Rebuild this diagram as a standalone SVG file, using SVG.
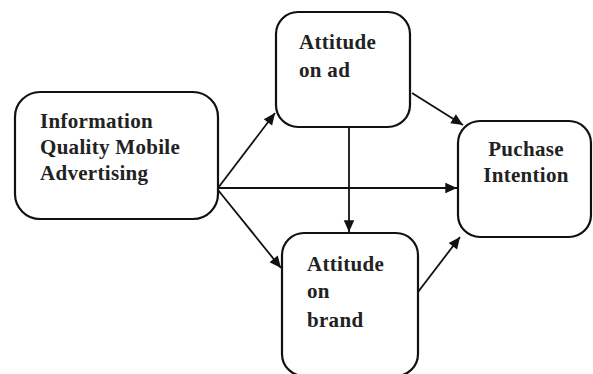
<svg xmlns="http://www.w3.org/2000/svg" width="593" height="374" viewBox="0 0 593 374">
<defs>
<style>
.box{fill:#fff;stroke:#111;stroke-width:2.2}
.lbl{font-family:"Liberation Serif","Times New Roman",serif;font-weight:bold;font-size:21px;fill:#222;letter-spacing:0.3px}
.conn{stroke:#111;stroke-width:1.8;fill:none;marker-end:url(#ah)}
</style>
<marker id="ah" viewBox="0 0 10 10" refX="10" refY="5" markerWidth="7" markerHeight="6.5" markerUnits="strokeWidth" orient="auto">
<path d="M0,0.5 L10,5 L0,9.5 Z" fill="#111"/>
</marker>
</defs>
<rect width="593" height="374" fill="#fff"/>
<g id="connectors">
<line class="conn" x1="218" y1="188" x2="275" y2="113"/>
<line class="conn" x1="218" y1="188" x2="457" y2="188"/>
<line class="conn" x1="218" y1="190" x2="281" y2="268"/>
<line class="conn" x1="412" y1="93" x2="463" y2="125"/>
<line class="conn" x1="349" y1="127" x2="349" y2="232"/>
<line class="conn" x1="418" y1="292" x2="460" y2="237"/>
</g>
<g id="info">
<rect class="box" x="15" y="92" width="203" height="127" rx="25"/>
<text class="lbl" x="40" y="128">Information</text>
<text class="lbl" x="40" y="154">Quality Mobile</text>
<text class="lbl" x="40" y="180">Advertising</text>
</g>
<g id="attitude-ad">
<rect class="box" x="276" y="12" width="134" height="115" rx="22"/>
<text class="lbl" x="299" y="49">Attitude</text>
<text class="lbl" x="299" y="77">on ad</text>
</g>
<g id="attitude-brand">
<rect class="box" x="282" y="233" width="136" height="143" rx="22"/>
<text class="lbl" x="307" y="271">Attitude</text>
<text class="lbl" x="307" y="298">on</text>
<text class="lbl" x="307" y="327">brand</text>
</g>
<g id="purchase">
<rect class="box" x="458" y="121" width="133" height="116" rx="22"/>
<text class="lbl" x="526" y="156" text-anchor="middle">Puchase</text>
<text class="lbl" x="526" y="182" text-anchor="middle">Intention</text>
</g>
</svg>
